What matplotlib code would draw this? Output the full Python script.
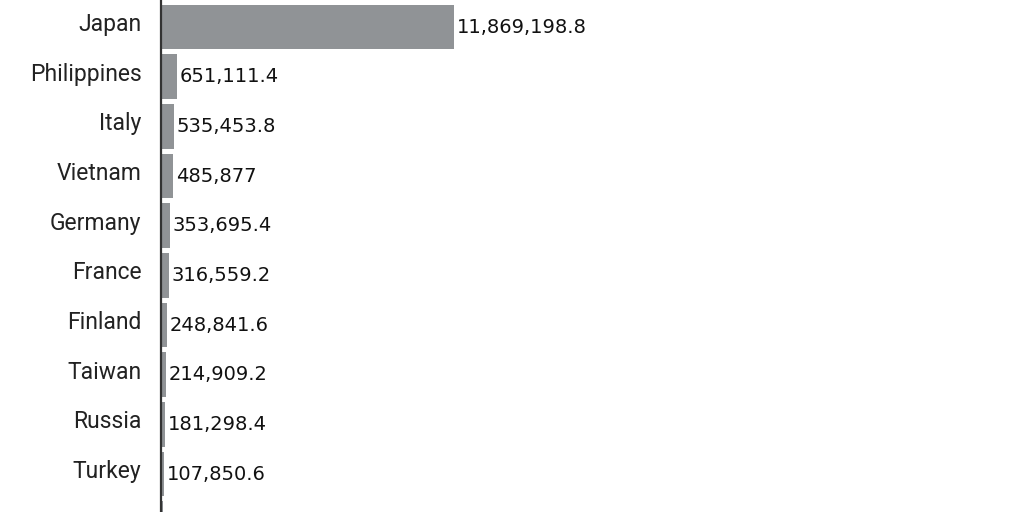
import matplotlib.pyplot as plt
from matplotlib.transforms import ScaledTranslation

# rows from top; the first and last rows are cut off by the frame
countries = ['United States', 'Japan', 'Philippines', 'Italy', 'Vietnam', 'Germany',
             'France', 'Finland', 'Taiwan', 'Russia', 'Turkey', 'Norway']
values = [18700000, 11869198.8, 651111.4, 535453.8, 485877, 353695.4,
          316559.2, 248841.6, 214909.2, 181298.4, 107850.6, 95000]


def fmt(v):
    if v == int(v):
        return f'{int(v):,}'
    return f'{v:,.1f}'


def main():
    fig = plt.figure(figsize=(10.24, 5.12), dpi=100)
    ax = fig.add_axes([161 / 1024, 0, 1 - 161 / 1024, 1])

    pos = [i - 1 for i in range(len(countries))]
    ax.barh(pos, values, height=0.9, color='#909396')

    for p, v in zip(pos, values):
        ax.text(v + 110000, p, fmt(v), va='center', ha='left',
                fontsize=14, family='DejaVu Sans', color='#111111')

    ax.set_yticks(pos)
    ax.set_yticklabels(countries, fontsize=16.5, family='Roboto', color='#222222')
    ax.tick_params(axis='y', length=0, pad=14)
    # country names sit a little above the bar centres
    shift = ScaledTranslation(0, 5 / 100, fig.dpi_scale_trans)
    for lab in ax.get_yticklabels():
        lab.set_transform(lab.get_transform() + shift)
    ax.set_xticks([])

    ax.set_xlim(0, 34.9e6)
    ax.set_ylim(9.765, -0.544)

    for s in ['top', 'right', 'bottom']:
        ax.spines[s].set_visible(False)
    ax.spines['left'].set_color('#333333')
    ax.spines['left'].set_linewidth(1.6)

    fig.savefig('out.png', dpi=100)


if __name__ == "__main__":
    main()
